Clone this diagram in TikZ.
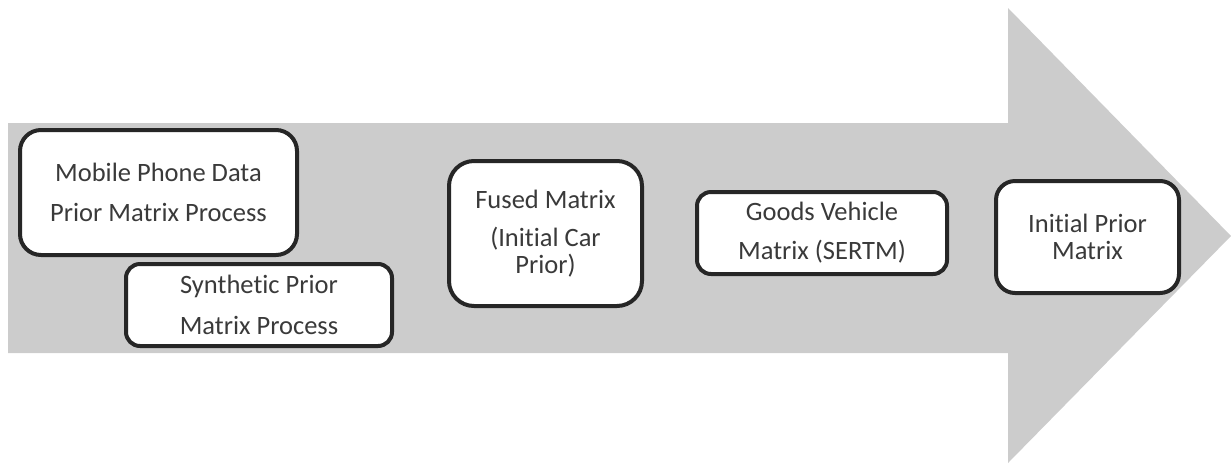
\documentclass[tikz,border=0pt]{standalone}
\usepackage{fontspec}
\setmainfont{Carlito}[Ligatures=NoCommon]
\definecolor{arrowgray}{HTML}{CCCCCC}
\definecolor{boxline}{HTML}{262626}
\definecolor{txt}{HTML}{3A3A3A}
\tikzset{
  stagebox/.style={draw=boxline, line width=4pt, fill=white, align=center,
    text=txt, font=\fontsize{26.5}{27.5}\selectfont, inner sep=0pt}
}
\begin{document}
\begin{tikzpicture}[x=1pt,y=-1pt]
\useasboundingbox (0,0) rectangle (1231,467);
\fill[arrowgray] (8,123) -- (1008,123) -- (1008,8) -- (1231,236) -- (1008,463) -- (1008,353) -- (8,353) -- cycle;
\node[stagebox, minimum width=277pt, minimum height=125pt, rounded corners=21pt] (mobile) at (158.5,192.5)
  {Mobile Phone Data\\[12.5pt]Prior Matrix Process};
\node[stagebox, minimum width=266pt, minimum height=82pt, rounded corners=14pt] (synth) at (259,305)
  {Synthetic Prior\\[13.5pt]Matrix Process};
\node[stagebox, minimum width=193pt, minimum height=145pt, rounded corners=25pt] (fused) at (545.5,233.5)
  {Fused Matrix\\[10.5pt](Initial Car\\Prior)};
\node[stagebox, minimum width=250pt, minimum height=82pt, rounded corners=14pt] (goods) at (822,233)
  {Goods Vehicle\\[11.5pt]Matrix (SERTM)};
\node[stagebox, minimum width=183pt, minimum height=112pt, rounded corners=19pt] (initial) at (1087.5,237)
  {Initial Prior\\Matrix};
\end{tikzpicture}
\end{document}
